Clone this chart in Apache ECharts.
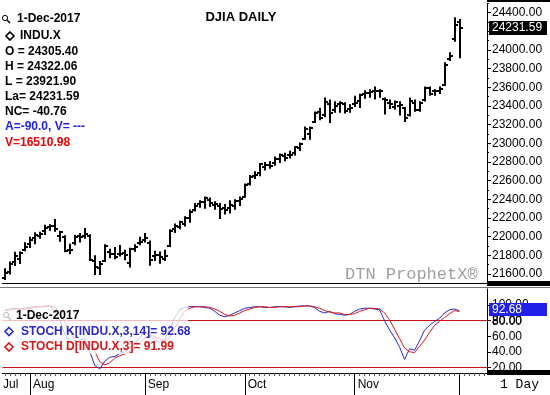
<!DOCTYPE html>
<html><head><meta charset="utf-8">
<script src="https://cdn.jsdelivr.net/npm/echarts@6/dist/echarts.min.js"></script>
<style>html,body{margin:0;padding:0;background:#fff}#c{width:550px;height:395px}</style>
</head><body><div id="c"></div>
<script>
// ---------------- data ----------------
const dates = [
 '2017-07-25','2017-07-26','2017-07-27','2017-07-28','2017-07-31',
 '2017-08-01','2017-08-02','2017-08-03','2017-08-04','2017-08-07','2017-08-08','2017-08-09','2017-08-10','2017-08-11',
 '2017-08-14','2017-08-15','2017-08-16','2017-08-17','2017-08-18','2017-08-21','2017-08-22','2017-08-23','2017-08-24',
 '2017-08-25','2017-08-28','2017-08-29','2017-08-30','2017-08-31',
 '2017-09-01','2017-09-05','2017-09-06','2017-09-07','2017-09-08','2017-09-11','2017-09-12','2017-09-13','2017-09-14',
 '2017-09-15','2017-09-18','2017-09-19','2017-09-20','2017-09-21','2017-09-22','2017-09-25','2017-09-26','2017-09-27',
 '2017-09-28','2017-09-29',
 '2017-10-02','2017-10-03','2017-10-04','2017-10-05','2017-10-06','2017-10-09','2017-10-10','2017-10-11','2017-10-12',
 '2017-10-13','2017-10-16','2017-10-17','2017-10-18','2017-10-19','2017-10-20','2017-10-23','2017-10-24','2017-10-25',
 '2017-10-26','2017-10-27','2017-10-30','2017-10-31',
 '2017-11-01','2017-11-02','2017-11-03','2017-11-06','2017-11-07','2017-11-08','2017-11-09','2017-11-10','2017-11-13',
 '2017-11-14','2017-11-15','2017-11-16','2017-11-17','2017-11-20','2017-11-21','2017-11-22','2017-11-24','2017-11-27',
 '2017-11-28','2017-11-29','2017-11-30',
 '2017-12-01'
];
const openV = [
 21560,21620,21734,21760,21855,
 21923,21990,22013,22058,22100,22113,22012,22000,21860,
 21930,22010,22012,22010,21741,21670,21740,21840,21820,
 21810,21830,21720,21870,21930,
 21960,21930,21790,21800,21760,21900,22080,22100,22140,
 22200,22290,22350,22370,22390,22340,22330,22310,22310,
 22330,22380,
 22430,22570,22650,22680,22750,22770,22790,22830,22860,
 22880,22900,22950,23050,23100,23230,23340,23300,23420,
 23360,23420,23420,23370,
 23420,23450,23530,23540,23560,23560,23480,23430,23390,
 23400,23380,23300,23430,23360,23460,23590,23560,23560,
 23630,23900,24120,
 24305.40
];
const highV = [
 21652,21723,21829,21830,21929,
 21990,22036,22044,22118,22122,22179,22054,22005,21915,
 22011,22030,22084,22015,21790,21730,21910,21860,21880,
 21900,21850,21870,21910,21990,
 22030,21950,21840,21830,21850,22070,22130,22160,22210,
 22280,22350,22380,22420,22410,22370,22350,22340,22380,
 22390,22420,
 22560,22650,22690,22780,22790,22800,22850,22880,22890,
 22910,22960,23000,23170,23170,23330,23370,23480,23460,
 23440,23440,23430,23410,
 23500,23520,23560,23570,23600,23570,23480,23460,23450,
 23440,23380,23480,23460,23440,23600,23600,23570,23600,
 23860,23967,24340,
 24322.06
];
const lowV = [
 21547,21605,21697,21718,21855,
 21890,21929,21988,22030,22076,22063,21957,21844,21822,
 21920,21950,21990,21750,21600,21600,21740,21780,21770,
 21800,21760,21680,21850,21920,
 21950,21700,21750,21720,21750,21900,22050,22090,22120,
 22160,22280,22320,22310,22330,22300,22200,22250,22260,
 22300,22340,
 22430,22560,22630,22660,22720,22740,22770,22800,22820,
 22850,22880,22930,23050,23050,23230,23260,23290,23230,
 23340,23340,23330,23340,
 23400,23390,23490,23500,23480,23500,23320,23380,23370,
 23310,23240,23300,23350,23350,23460,23520,23520,23540,
 23625,23893,24100,
 23921.90
];
const closeV = [
 21613,21711,21797,21830,21891,
 21963,22016,22026,22093,22118,22085,22049,21844,21858,
 21994,21998,22025,21750,21674,21703,21899,21812,21783,
 21814,21808,21865,21892,21948,
 21988,21753,21807,21784,21798,22057,22119,22158,22203,
 22268,22331,22370,22412,22359,22349,22296,22284,22340,
 22381,22405,
 22557,22641,22661,22775,22773,22761,22831,22872,22841,
 22871,22957,22997,23157,23163,23329,23273,23441,23329,
 23400,23434,23348,23377,
 23435,23516,23539,23548,23557,23563,23461,23422,23440,
 23409,23271,23458,23358,23431,23591,23526,23558,23580,
 23836,23940,24272.35,
 24231.59
];
const stochK = [
 94,95,96,95,96,
 97,98,98,99,99,92,80,62,52,
 50,55,57,40,22,18,28,33,34,
 38,40,44,50,58,
 66,60,55,52,56,70,84,94,97,
 98,98,98,97,96,92,87,85,87,
 90,93,
 96,97,98,98,97,97,98,98,98,
 97,98,99,99,99,97,92,90,92,
 89,88,87,88,
 92,95,96,96,95,94,80,68,58,
 46,30,44,42,54,68,74,79,83,
 90,94,95,
 92.68
];
const stochD = [
 93,94,95,95,95,
 96,97,98,98,99,97,90,78,65,
 55,52,54,51,40,27,23,26,32,
 35,37,41,45,51,
 58,61,60,56,54,59,70,83,92,
 96,98,98,98,97,95,92,88,86,
 87,90,
 93,95,97,98,98,97,97,98,98,
 98,98,98,99,99,98,96,93,91,
 90,90,88,88,
 89,92,94,96,96,95,90,81,69,
 57,45,40,39,47,55,65,74,79,
 84,89,93,
 91.99
];
const priceTicks = [21600,21800,22000,22200,22400,22600,22800,23000,23200,23400,23600,23800,24000,24200,24400];
const stochTicks = [20,40,60,80,100];
const stochLevels = [80,20];
const volumeLast = 16510.98;
const monthNames = ['Jan','Feb','Mar','Apr','May','Jun','Jul','Aug','Sep','Oct','Nov','Dec'];

// ---------------- build ----------------
const BLANK = 5;
const cats = dates.concat(new Array(BLANK).fill(''));
const last = dates.length - 1;
const ohlc = dates.map((d, i) => [i, openV[i], highV[i], lowV[i], closeV[i]]);
function monthOf(i){ return dates[i] ? dates[i].slice(5,7) : null; }
function isMonthStart(i){ return i > 0 && i < dates.length && monthOf(i) !== monthOf(i-1); }
function showLabel(i){ return i === 0 || (isMonthStart(i) && i !== last); }
function dateText(s){ const p = s.split('-'); return (+p[2]) + '-' + monthNames[+p[1]-1] + '-' + p[0]; }

const FONT = 'Liberation Sans, Arial, sans-serif';
const GL = 2.3, GR = 63;
const SMIN = 12.66, SMAX = 120.8;
const chart = echarts.init(document.getElementById('c'), null, {renderer:'canvas'});

const option = {
  animation:false,
  backgroundColor:'#fff',
  grid:[
    {left:GL, right:GR, top:3.4, height:280},
    {left:GL, right:GR, top:289, height:84}
  ],
  xAxis:[
    {gridIndex:0, type:'category', data:cats, boundaryGap:true,
     axisLine:{show:true, lineStyle:{color:'#000', width:1}}, axisTick:{show:false}, axisLabel:{show:false}, splitLine:{show:false}},
    {gridIndex:1, type:'category', data:cats, boundaryGap:true, position:'bottom',
     axisLine:{show:true, lineStyle:{color:'#000', width:1}},
     axisTick:{show:true, alignWithLabel:true, interval:0, length:3, lineStyle:{color:'#555'}},
     axisLabel:{show:false}, splitLine:{show:false}},
    {gridIndex:1, type:'category', data:cats, boundaryGap:true, position:'bottom',
     axisLine:{show:false},
     axisTick:{show:true, alignWithLabel:true, length:22, interval:(i)=>isMonthStart(i), lineStyle:{color:'#000'}},
     axisLabel:{show:true, interval:(i)=>showLabel(i), align:'left', margin:6,
       color:'#000', fontSize:12, fontFamily:FONT,
       formatter:(v, i)=> v ? (i === 0 ? '{j|' + monthNames[+v.slice(5,7)-1] + '}' : '{m|' + monthNames[+v.slice(5,7)-1] + '}') : '',
       rich:{j:{fontSize:12, fontFamily:FONT, color:'#000', padding:[0,0,0,-2]}, m:{fontSize:12, fontFamily:FONT, color:'#000', padding:[0,0,0,3]}}},
     splitLine:{show:false}}
  ],
  yAxis:[
    {gridIndex:0, type:'value', position:'right', min:21500, max:24500,
     axisLine:{show:true, lineStyle:{color:'#000'}},
     axisTick:{show:true, customValues:priceTicks, length:4, lineStyle:{color:'#000'}},
     axisLabel:{show:true, customValues:priceTicks, margin:5, color:'#000', fontSize:12, fontFamily:FONT,
       hideOverlap:false, formatter:(v)=>v.toFixed(2)},
     splitLine:{show:false}},
    {gridIndex:0, type:'value', position:'right', min:21500, max:24500, interval:100,
     axisLine:{show:false}, axisTick:{show:true, length:2, lineStyle:{color:'#000'}},
     axisLabel:{show:false}, splitLine:{show:false}},
    {gridIndex:1, type:'value', position:'right', min:SMIN, max:SMAX,
     axisLine:{show:true, lineStyle:{color:'#000'}},
     axisTick:{show:true, customValues:stochTicks, length:4, lineStyle:{color:'#000'}},
     axisLabel:{show:true, customValues:stochTicks, margin:5, color:'#000', fontSize:12, fontFamily:FONT,
       hideOverlap:false, formatter:(v)=>v.toFixed(2)},
     splitLine:{show:false}}
  ],
  series:[
    {type:'custom', xAxisIndex:0, yAxisIndex:0, data:ohlc, encode:{x:0, y:[1,2,3,4]}, z:3,
     renderItem:function(params, api){
       const i = api.value(0);
       const o = api.coord([i, api.value(1)]);
       const h = api.coord([i, api.value(2)]);
       const l = api.coord([i, api.value(3)]);
       const c = api.coord([i, api.value(4)]);
       const cx = Math.round(o[0]);
       const st = {stroke:'#000', lineWidth:2};
       return {type:'group', children:[
         {type:'line', shape:{x1:cx, y1:h[1]-1, x2:cx, y2:l[1]+1}, style:st},
         {type:'line', shape:{x1:cx-3, y1:Math.round(o[1]), x2:cx, y2:Math.round(o[1])}, style:st},
         {type:'line', shape:{x1:cx, y1:Math.round(c[1]), x2:cx+3, y2:Math.round(c[1])}, style:st}
       ]};
     }},
    {type:'line', name:'STOCH K', xAxisIndex:1, yAxisIndex:2, data:stochK, symbol:'none', z:3,
     lineStyle:{color:'#2a2ac8', width:1}, itemStyle:{color:'#2a2ac8'},
     markLine:{silent:true, symbol:'none', label:{show:false}, z:2,
       lineStyle:{color:'#c81414', type:'solid', width:1},
       data:stochLevels.map(v=>({yAxis:v, label:{show:false}}))}},
    {type:'line', name:'STOCH D', xAxisIndex:1, yAxisIndex:2, data:stochD, symbol:'none', z:3,
     lineStyle:{color:'#d81818', width:1}, itemStyle:{color:'#d81818'}}
  ]
};
chart.setOption(option);

// ---------------- annotations ----------------
const yLast = chart.convertToPixel({yAxisIndex:0}, closeV[last]);
const yK = chart.convertToPixel({yAxisIndex:2}, stochK[last]);
const y80 = chart.convertToPixel({yAxisIndex:2}, stochLevels[0]);
function t(x, y, text, color, opt){
  return Object.assign({type:'text', x:x, y:y, z:20,
    style:{text:text, fill:color||'#000', font:'bold 12px ' + FONT, textVerticalAlign:'middle'}}, opt||{});
}
function mag(x, y){
  return {type:'group', x:x, y:y, z:20, children:[
    {type:'circle', shape:{cx:3, cy:3, r:2.6}, style:{fill:'none', stroke:'#000', lineWidth:1}},
    {type:'line', shape:{x1:5, y1:5, x2:8, y2:8}, style:{stroke:'#000', lineWidth:1.5}}
  ]};
}
function diamond(cx, cy, color){
  return {type:'polygon', z:20, shape:{points:[[cx,cy-4],[cx+4,cy],[cx,cy+4],[cx-4,cy]]},
    style:{fill:'#fff', stroke:color, lineWidth:1.6}};
}
const f2 = (v)=>v.toFixed(2);
const L = 15;
const y0 = 21.5;
const nc = closeV[last] - closeV[last-1];
const kBoxTop = Math.min(Math.round(yK) - 7, Math.round(y80) - 18);
const g = [
  // frame bits
  {type:'rect', z:15, shape:{x:487, y:0, width:63, height:2}, style:{fill:'#000'}},
  {type:'rect', z:15, shape:{x:487, y:281, width:63, height:5}, style:{fill:'#000'}},
  {type:'rect', z:15, shape:{x:487, y:370, width:63, height:5}, style:{fill:'#000'}},
  {type:'line', z:15, shape:{x1:0, y1:287.5, x2:550, y2:287.5}, style:{stroke:'#777', lineWidth:1}},
  // stoch legend fade box
  {type:'rect', z:10, shape:{x:0, y:290, width:188, height:64}, style:{fill:'rgba(255,255,255,0.72)'}},
  // title
  {type:'text', x:241, y:17, z:20, style:{text:'DJIA DAILY', fill:'#000', font:'bold 13px ' + FONT, textAlign:'center', textVerticalAlign:'middle'}},
  // top legend
  mag(2, 15),
  t(17, 19, dateText(dates[last])),
  diamond(10, y0+L-0.5, '#000'),
  t(20, y0+L-0.5, 'INDU.X'),
  t(5, y0+2*L, 'O = ' + f2(openV[last])),
  t(5, y0+3*L, 'H = ' + f2(highV[last])),
  t(5, y0+4*L, 'L = ' + f2(lowV[last])),
  t(5, y0+5*L, 'La= ' + f2(closeV[last])),
  t(5, y0+6*L, 'NC= ' + f2(nc)),
  t(5, y0+7*L+0.5, 'A=-90.0, V= ---', '#1e1ee6'),
  t(5, y0+8*L+1, 'V=' + f2(volumeLast), '#f00000'),
  // lower legend
  mag(3, 312),
  t(16, 316, dateText(dates[last])),
  diamond(9, 331.5, '#2a2ac8'),
  t(21, 331.5, 'STOCH K[INDU.X,3,14]= ' + f2(stochK[last]), '#2a2ac8'),
  diamond(9, 347, '#d81818'),
  t(21, 347, 'STOCH D[INDU.X,3]= ' + f2(stochD[last]), '#d81818'),
  // watermark
  {type:'text', x:345, y:274, z:20, style:{text:'DTN ProphetX\u00ae', fill:'#a0a0a0', font:'17px Liberation Mono, monospace', textVerticalAlign:'middle'}},
  // last value boxes
  {type:'rect', z:18, shape:{x:489, y:Math.round(yLast)-7, width:58, height:14}, style:{fill:'#000'}},
  {type:'text', x:492, y:Math.round(yLast), z:19, style:{text:f2(closeV[last]), fill:'#fff', font:'12px ' + FONT, textVerticalAlign:'middle'}},
  {type:'rect', z:18, shape:{x:489, y:kBoxTop, width:58, height:13}, style:{fill:'#2020e8'}},
  {type:'text', x:492, y:kBoxTop + 6.5, z:19, style:{text:f2(stochK[last]), fill:'#fff', font:'12px ' + FONT, textVerticalAlign:'middle'}},
  // 80 level tick label kept visible below the last-value box
  {type:'text', x:492, y:y80 + 1, z:25, style:{text:f2(stochLevels[0]), fill:'#000', font:'12px ' + FONT, textVerticalAlign:'middle'}},
  // period label
  {type:'text', x:500, y:385, z:20, style:{text:'1 Day', fill:'#000', font:'13px Liberation Mono, monospace', textVerticalAlign:'middle'}}
];
chart.setOption({graphic:g});
</script></body></html>
